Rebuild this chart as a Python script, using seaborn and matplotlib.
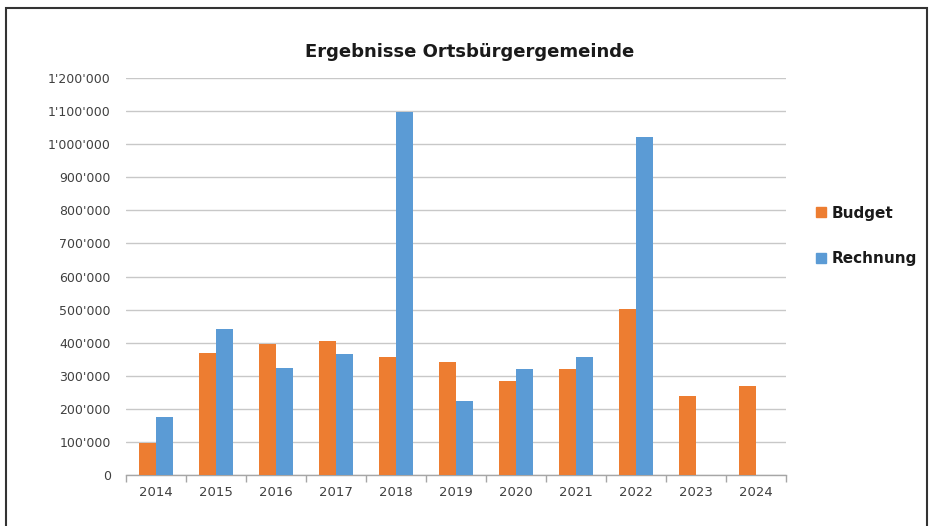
import matplotlib
matplotlib.use("Agg")
import matplotlib.pyplot as plt
import matplotlib.ticker as mticker
from matplotlib.patches import Rectangle
from matplotlib.lines import Line2D
import numpy as np
import pandas as pd
import seaborn as sns

years = ["2014", "2015", "2016", "2017", "2018", "2019", "2020", "2021", "2022", "2023", "2024"]
budget = [97000, 368000, 395000, 406000, 356000, 343000, 284000, 321000, 502000, 240000, 268000]
rechnung = [174000, 440000, 322000, 365000, 1097000, 225000, 321000, 357000, 1022000, np.nan, np.nan]
series = ["Budget", "Rechnung"]
colors = ["#ED7D31", "#5B9BD5"]
title = "Ergebnisse Ortsbürgergemeinde"

df = pd.DataFrame({
    "Jahr": years * 2,
    "Wert": budget + rechnung,
    "Serie": [series[0]] * len(years) + [series[1]] * len(years),
})

sns.set_theme(style="white")
plt.rcParams["font.family"] = ["DejaVu Sans"]

fig = plt.figure(figsize=(9.33, 5.26), dpi=100)
ax = fig.add_axes([126 / 933, 51 / 526, 660 / 933, 397 / 526])

sns.barplot(data=df, x="Jahr", y="Wert", hue="Serie", palette=colors,
            order=years, hue_order=series, width=0.57, saturation=1,
            errorbar=None, ax=ax, zorder=3, legend=False, linewidth=0)

ax.set_ylim(0, 1200000)
ax.set_xlim(-0.5, len(years) - 0.5)
ax.yaxis.set_major_locator(mticker.MultipleLocator(100000))
ax.yaxis.set_major_formatter(mticker.FuncFormatter(lambda v, p: f"{int(v):,}".replace(",", "'")))
ax.grid(axis="y", color="#c8c8c8", linewidth=1.0, zorder=0)
ax.set_axisbelow(True)
for s in ["top", "right", "left"]:
    ax.spines[s].set_visible(False)
ax.spines["bottom"].set_color("#a6a6a6")
ax.spines["bottom"].set_linewidth(1.0)
ax.set_xlabel("")
ax.set_ylabel("")
ax.tick_params(axis="x", which="major", length=0, pad=8, labelsize=9.5, labelcolor="#404040")
ax.tick_params(axis="y", which="major", length=0, pad=11, labelsize=9, labelcolor="#404040")
ax.xaxis.set_minor_locator(mticker.FixedLocator(np.arange(-0.5, len(years), 1.0)))
ax.tick_params(axis="x", which="minor", bottom=True, length=5, color="#a6a6a6", width=1,
               direction="out")

fig.text(470 / 933, 1 - 52 / 526, title, ha="center", va="center",
         fontsize=13, fontweight="bold", color="#1a1a1a")

handles = [Line2D([0], [0], marker="s", linestyle="", markersize=7,
                  markerfacecolor=c, markeredgecolor=c) for c in colors]
fig.legend(handles, series, loc="center left", bbox_to_anchor=(800 / 933, 1 - 236 / 526),
           frameon=False, prop={"weight": "bold", "size": 11}, labelspacing=2.0,
           handletextpad=0.2, handlelength=1.0, labelcolor="#1a1a1a")

fig.add_artist(Rectangle((6 / 933, -0.01), (927 - 6) / 933, 1 - 8 / 526 + 0.01,
                         transform=fig.transFigure, fill=False, edgecolor="#333333",
                         linewidth=1.5))

fig.savefig("out.png", dpi=100)
